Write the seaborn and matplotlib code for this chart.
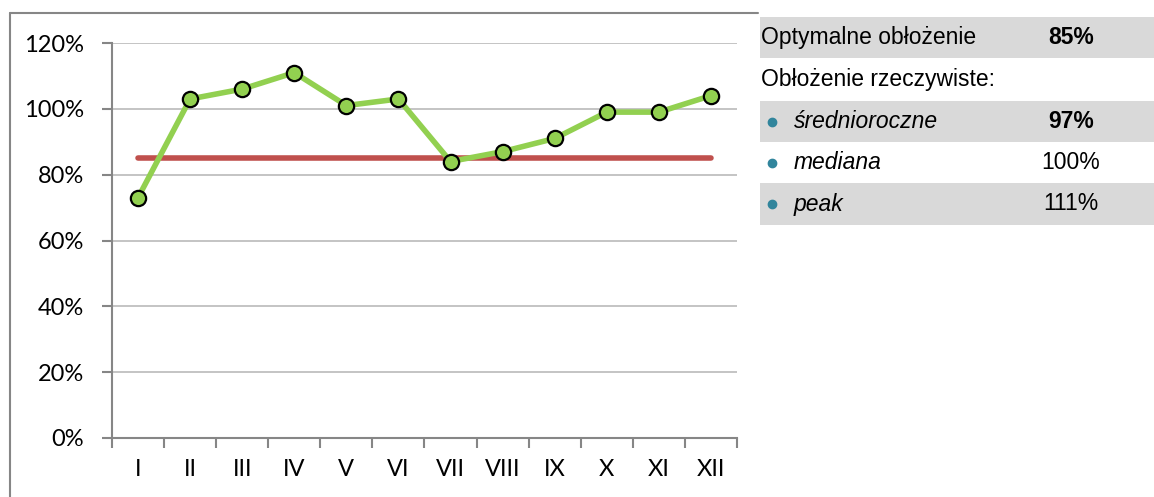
import matplotlib
matplotlib.use("Agg")
import matplotlib.pyplot as plt
import pandas as pd
import seaborn as sns
from matplotlib.lines import Line2D
from matplotlib.patches import Rectangle
from matplotlib.ticker import FixedLocator, PercentFormatter

# monthly occupancy (fraction)
months = ["I", "II", "III", "IV", "V", "VI", "VII", "VIII", "IX", "X", "XI", "XII"]
occupancy = [0.73, 1.03, 1.06, 1.11, 1.01, 1.03, 0.84, 0.87, 0.91, 0.99, 0.99, 1.04]
optimal = 0.85

# side table
table_labels = ["Optymalne obłożenie", "Obłożenie rzeczywiste:", "średnioroczne", "mediana", "peak"]
table_values = ["85%", "", "97%", "100%", "111%"]
table_bold = [True, False, True, False, False]

W, H = 1154, 497
sns.set_style("white")
plt.rcParams["font.family"] = ["Lato", "DejaVu Sans"]
plt.rcParams["text.color"] = "black"

fig = plt.figure(figsize=(W / 100, H / 100), dpi=100)
ax = fig.add_axes([112 / W, 1 - 438 / H, (737 - 112) / W, (438 - 43) / H])

df = pd.DataFrame({"month": months, "occupancy": occupancy, "optimal": [optimal] * len(months)})
sns.lineplot(data=df, x="month", y="optimal", ax=ax, color="#C0504D", lw=4,
             solid_capstyle="round", zorder=2)
sns.lineplot(data=df, x="month", y="occupancy", ax=ax, color="#92D050", lw=4,
             marker="o", markersize=11, markerfacecolor="#92D050",
             markeredgecolor="black", markeredgewidth=1.6, zorder=3)

ax.set_xlim(-0.5, len(months) - 0.5)
ax.set_ylim(0, 1.2)
ax.set_yticks([0, 0.2, 0.4, 0.6, 0.8, 1.0, 1.2])
ax.yaxis.set_major_formatter(PercentFormatter(1.0, decimals=0))
ax.grid(axis="y", color="#BFBFBF", lw=1.3)
ax.set_axisbelow(True)
ax.set_xlabel("")
ax.set_ylabel("")

for s in ["top", "right"]:
    ax.spines[s].set_visible(False)
for s in ["left", "bottom"]:
    ax.spines[s].set_color("#868686")
    ax.spines[s].set_linewidth(1.5)

ax.xaxis.set_minor_locator(FixedLocator([i - 0.5 for i in range(len(months) + 1)]))
ax.tick_params(axis="x", which="major", length=0, pad=15, labelsize=17, labelcolor="black")
ax.tick_params(axis="x", which="minor", length=7, width=1.5, color="#868686", bottom=True)
ax.tick_params(axis="y", length=7, width=1.5, color="#868686", labelsize=17, pad=13,
               left=True, labelcolor="black")

# outer chart frame
frame_col = "#868686"
fig.add_artist(Line2D([10 / W, 758 / W], [1 - 13 / H, 1 - 13 / H], color=frame_col, lw=1.5,
                      transform=fig.transFigure))
fig.add_artist(Line2D([10 / W, 10 / W], [0, 1 - 13 / H], color=frame_col, lw=1.5,
                      transform=fig.transFigure))

# side table
row_top = [17, 58, 101, 142, 183]
row_h = [41, 43, 41, 41, 42]
fs = 16.5
for i, (lab, val) in enumerate(zip(table_labels, table_values)):
    y0, h = row_top[i], row_h[i]
    if i % 2 == 0:
        fig.add_artist(Rectangle((760 / W, 1 - (y0 + h) / H), (W - 760) / W, h / H,
                                 facecolor="#D9D9D9", edgecolor="none", transform=fig.transFigure))
    yc = 1 - (y0 + h / 2) / H
    if i >= 2:
        fig.text(794 / W, yc, lab, fontsize=fs, style="italic", va="center", ha="left",
                 family=["Liberation Sans"])
        fig.add_artist(Line2D([772 / W], [yc], marker="o", markersize=6, color="#31859C",
                              transform=fig.transFigure))
    else:
        fig.text(761 / W, yc, lab, fontsize=fs, va="center", ha="left", family=["Liberation Sans"])
    if val:
        fig.text(1071 / W, yc, val, fontsize=fs, va="center", ha="center",
                 fontweight="bold" if table_bold[i] else "normal", family=["Liberation Sans"])

fig.savefig("out.png", dpi=100)
